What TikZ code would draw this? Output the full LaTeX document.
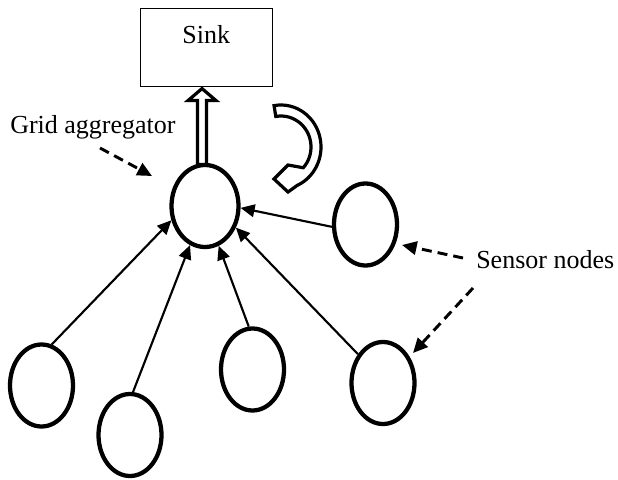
\documentclass[tikz,border=0pt]{standalone}
\usepackage{fontspec}
\setmainfont{Liberation Serif}
\usetikzlibrary{arrows.meta,calc,shapes.geometric}
\begin{document}
\begin{tikzpicture}[x=0.75pt,y=-0.75pt,
  sensor/.style={draw,ellipse,line width=3.2pt,minimum width=47.25pt,minimum height=61.5pt,inner sep=0pt},
  link/.style={line width=1.6pt,-{Triangle[length=10.5pt,width=9.5pt]}},
  pointer/.style={line width=2.2pt,dash pattern=on 7.5pt off 4.5pt,-{Triangle[length=11pt,width=10pt]}},
  hollow/.style={line width=2.4pt,fill=white,line join=miter},
  lbl/.style={font=\fontsize{19.5}{23}\selectfont,inner sep=0pt}]
\useasboundingbox (0,0) rectangle (618,479);

% sink box
\node[draw,line width=0.75pt,lbl,minimum width=98.8pt,minimum height=58.5pt,
      text height=8pt,text depth=15.2pt] (sink) at (206.3,47.8) {Sink};

% aggregator and sensor nodes
\node[sensor,minimum width=50.25pt] (agg) at (205,206) {};
\node[sensor] (s1) at (41.5,385.5) {};
\node[sensor] (s2) at (130,435) {};
\node[sensor] (s3) at (252.5,369.5) {};
\node[sensor] (s4) at (383,383) {};
\node[sensor] (s5) at (365.5,224.5) {};

% hollow arrow from aggregator up to the sink
\draw[hollow] ($(agg.north)+(-7.5,1.7)$) -- ++(0,-64) -- ++(-9.5,0) -- ++(14,-12)
  -- ++(14,12) -- ++(-9.5,0) -- ++(0,64) -- cycle;

% curved hollow arrow (aggregation loop)
\coordinate (loop) at (281,147);
\draw[hollow] ($(loop)+(-100:40 and 42)$)
  arc[start angle=-100,end angle=66,x radius=40,y radius=42]
  -- (288,192) -- (274,179) -- (288,165)
  -- ($(loop)+(42:30 and 31)$)
  arc[start angle=42,end angle=-100,x radius=30,y radius=31] -- cycle;

% sensor-to-aggregator links
\draw[link] (s1.76) -- (agg.203);
\draw[link] (s2.86) -- (agg.249);
\draw[link] (s3.95) -- (agg.289);
\draw[link] (s4.131) -- (agg.325);
\draw[link] (s5.184) -- (agg.357);

% labels
\node[lbl,anchor=base west] (glbl) at (10,133) {Grid aggregator};
\node[lbl,anchor=base west] (slbl) at (476,268) {Sensor nodes};

\coordinate (g0) at (100,148);
\coordinate (g1) at (152,176);
\coordinate (a0) at (463,258);
\coordinate (a1) at (402,245);
\coordinate (b0) at (473,288);
\coordinate (b1) at (413,353);
\draw[pointer] (g0) -- (g1);
\draw[pointer] (a0) -- (a1);
\draw[pointer] (b0) -- (b1);
\end{tikzpicture}
\end{document}
